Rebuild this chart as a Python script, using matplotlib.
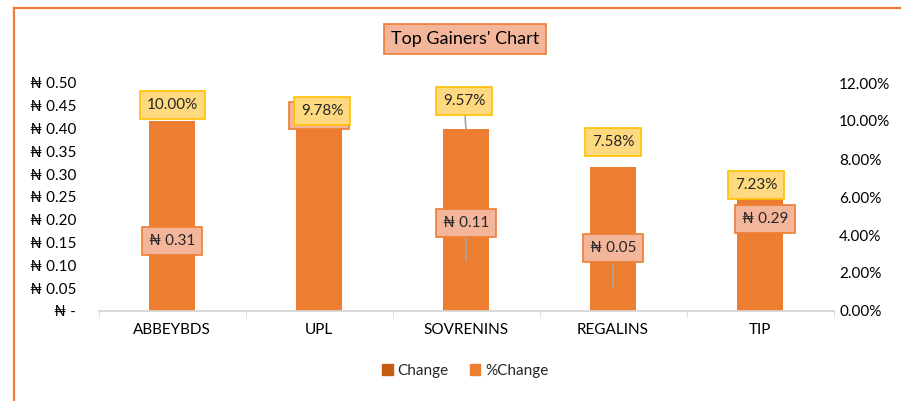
import matplotlib
matplotlib.use("Agg")
import matplotlib.pyplot as plt
from matplotlib.lines import Line2D
from matplotlib.patches import Patch
from matplotlib.ticker import FuncFormatter, FixedLocator

# datos del grafico
stocks = ["ABBEYBDS", "UPL", "SOVRENINS", "REGALINS", "TIP"]
change = [0.31, 0.40, 0.11, 0.05, 0.29]
pct_change = [0.1000, 0.0978, 0.0957, 0.0758, 0.0723]

# desplazamientos de etiquetas (pixeles), como en el original movidas a mano
pct_offsets = [(0, 16), (3, 14), (-2, 28), (0, 25), (-4, -11)]
chg_offsets = [(0, -71), (0, 13), (0, 38), (0, 40), (5, -40)]
pct_leader = [False, False, True, False, False]
chg_leader = [False, False, True, True, False]

ORANGE = "#ED7D31"
DARK = "#C55A11"
FONT = ["Lato", "DejaVu Sans"]
plt.rcParams["font.family"] = FONT
plt.rcParams["text.color"] = "#262626"

W, H = 901, 401
fig = plt.figure(figsize=(W / 100, H / 100), dpi=100)

left, right, top, bottom = 98.5, 833.5, 83, 311
ax = fig.add_axes([left / W, 1 - bottom / H, (right - left) / W, (bottom - top) / H])
ax2 = ax.twinx()

x = list(range(len(stocks)))
bw = 0.31
ax.bar(x, change, width=bw, color=DARK, zorder=2)
ax2.bar(x, pct_change, width=bw, color=ORANGE, zorder=2)

ax.set_xlim(-0.5, len(stocks) - 0.5)
ax.set_ylim(0, 0.5)
ax2.set_ylim(0, 0.12)

ax.yaxis.set_major_locator(FixedLocator([i * 0.05 for i in range(11)]))
ax2.yaxis.set_major_locator(FixedLocator([i * 0.02 for i in range(7)]))
ax.yaxis.set_major_formatter(FuncFormatter(lambda v, p: "₦ -" if abs(v) < 1e-9 else f"₦ {v:.2f}"))
ax2.yaxis.set_major_formatter(FuncFormatter(lambda v, p: f"{v*100:.2f}%"))

ax.set_xticks(x)
ax.set_xticklabels(stocks)
ax.set_xticks([i - 0.5 for i in range(len(stocks) + 1)], minor=True)
ax.tick_params(axis="x", which="major", length=0, pad=9, labelsize=11)
ax.tick_params(axis="x", which="minor", length=4, color="#D9D9D9", direction="out")
ax.tick_params(axis="y", length=0, pad=16, labelsize=11)
ax2.tick_params(axis="y", length=0, pad=4, labelsize=11)

for a in (ax, ax2):
    for s in ("top", "left", "right"):
        a.spines[s].set_visible(False)
    a.spines["bottom"].set_color("#D9D9D9")
    a.spines["bottom"].set_linewidth(1.2)
    a.set_facecolor("none")

# etiquetas de %Change y Change (todas en ax2 para quedar sobre las barras)
def add_label(i, val, coords, text, off, leader, fc, ec, z):
    arrow = dict(arrowstyle="-", color="#A6A6A6", lw=1.2, shrinkA=0, shrinkB=0) if leader else None
    ax2.annotate(text, xy=(i, val), xycoords=coords, xytext=off, textcoords="offset pixels",
                 ha="center", va="center", fontsize=11, zorder=z,
                 bbox=dict(boxstyle="square,pad=0.45", fc=fc, ec=ec, lw=1.2),
                 arrowprops=arrow)

for i in x:
    add_label(i, change[i], ax.transData, f"₦ {change[i]:.2f}", chg_offsets[i], chg_leader[i],
              "#F4B69A", ORANGE, 5)
for i in x:
    add_label(i, pct_change[i], ax2.transData, f"{pct_change[i]*100:.2f}%", pct_offsets[i],
              pct_leader[i], "#FFD97F", "#FFC000", 6)

# titulo con caja
fig.text(465 / W, 1 - 39 / H, "Top Gainers' Chart", ha="center", va="center", fontsize=13,
         color="black", bbox=dict(boxstyle="square,pad=0.4", fc="#F4B69A", ec=ORANGE, lw=1.2))

# leyenda
handles = [Patch(color=DARK, label="Change"), Patch(color=ORANGE, label="%Change")]
fig.legend(handles=handles, loc="center", bbox_to_anchor=(465 / W, 1 - 371 / H), ncol=2,
           frameon=False, fontsize=11, handlelength=0.7, handleheight=0.7,
           handletextpad=0.3, columnspacing=1.4)

# bordes naranjas del area del grafico
fig.add_artist(Line2D([14 / W, 1], [1 - 8 / H, 1 - 8 / H], color=ORANGE, lw=1.6,
                      transform=fig.transFigure))
fig.add_artist(Line2D([14 / W, 14 / W], [0, 1 - 8 / H], color=ORANGE, lw=1.6,
                      transform=fig.transFigure))

fig.savefig("out.png", dpi=100)
